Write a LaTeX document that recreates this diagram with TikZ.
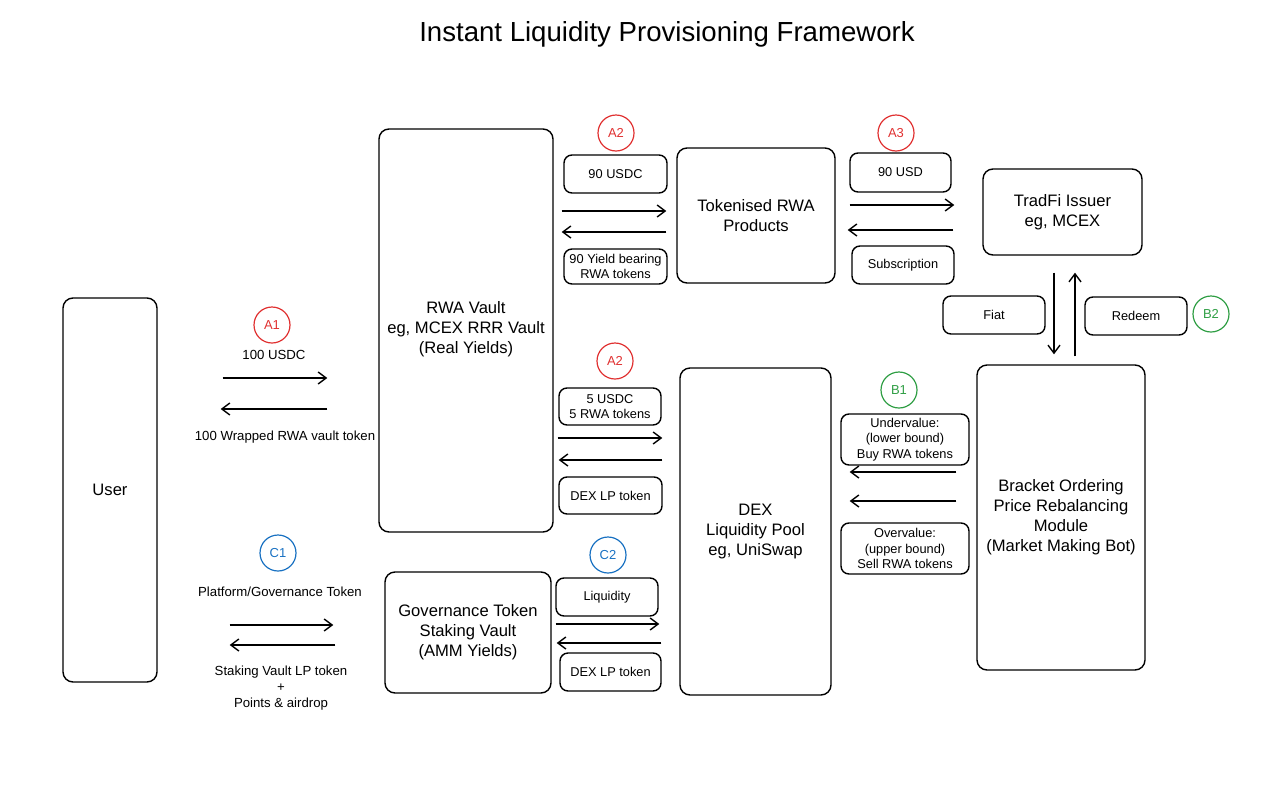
\documentclass[tikz,border=0pt]{standalone}
\usepackage{fontspec}
\setmainfont{Liberation Sans}
\usepackage{xcolor}
\usepackage{tikz}
\usetikzlibrary{arrows.meta,positioning,shapes}
\definecolor{xred}{HTML}{E03131}
\definecolor{xgreen}{HTML}{2F9E44}
\definecolor{xblue}{HTML}{1971C2}
\tikzstyle{block} = [rectangle, rounded corners=5pt, draw=black, line width=0.7pt, align=center, font=\fontsize{8.3}{10}\selectfont, inner sep=1pt]
\tikzstyle{tag} = [rectangle, rounded corners=4pt, draw=black, line width=0.7pt, align=center, font=\fontsize{6.4}{7.7}\selectfont, inner sep=0.5pt]
\tikzstyle{note} = [align=center, font=\fontsize{6.6}{7.8}\selectfont, inner sep=0pt]
\tikzstyle{badge} = [circle, draw, line width=0.6pt, minimum size=18pt, inner sep=0pt, font=\fontsize{6.5}{7}\selectfont]
\tikzstyle{arrow} = [line width=0.7pt,-{Straight Barb[length=4pt,width=6pt]}]

\begin{document}
\begin{tikzpicture}[x=0.5pt,y=-0.5pt]
		\useasboundingbox (0,0) rectangle (1280,793);
		\node[font=\fontsize{13.8}{15}\selectfont] (title) at (667,34) {Instant Liquidity Provisioning Framework};
		
		% main blocks
		\node[block, minimum width=47pt, minimum height=192pt] (user) at (110,490) {User};
		\node[block, minimum width=87pt, minimum height=201.5pt] (rwa) at (466,330.5) {};
		\node[font=\fontsize{8.3}{10}\selectfont, align=center] (rwatext) at (466,329) {RWA Vault\\eg, MCEX RRR Vault\\(Real Yields)};
		\node[block, minimum width=79pt, minimum height=67.5pt] (tok) at (756,215.5) {Tokenised RWA\\Products};
		\node[block, minimum width=79.5pt, minimum height=43pt] (tradfi) at (1062.5,212) {TradFi Issuer\\eg, MCEX};
		\node[block, minimum width=75.5pt, minimum height=163.5pt] (dex) at (755.5,531.5) {DEX\\Liquidity Pool\\eg, UniSwap};
		\node[block, minimum width=84pt, minimum height=152.5pt] (bracket) at (1061,517.5) {Bracket Ordering\\Price Rebalancing\\Module\\(Market Making Bot)};
		\node[block, minimum width=83pt, minimum height=60.5pt] (gov) at (468,632.5) {Governance Token\\Staking Vault\\(AMM Yields)};
		
		% labels on flows
		\node[tag, minimum width=51.5pt, minimum height=19pt] (usdcA) at (615.5,174) {90 USDC};
		\node[tag, minimum width=51.5pt, minimum height=17.5pt] (yieldA) at (615.5,266.5) {90 Yield bearing\\RWA tokens};
		\node[tag, minimum width=50.5pt, minimum height=19.5pt] (usdA) at (900.5,172.5) {90 USD};
		\node[tag, minimum width=51pt, minimum height=19pt] (subs) at (903,265) {Subscription};
		\node[tag, minimum width=51pt, minimum height=19pt] (fiat) at (994,315) {Fiat};
		\node[tag, minimum width=51pt, minimum height=19pt] (redeem) at (1136,316) {Redeem};
		\node[tag, minimum width=51pt, minimum height=18.5pt] (usdcB) at (610,406.5) {5 USDC\\5 RWA tokens};
		\node[tag, minimum width=51.5pt, minimum height=18.5pt] (lpA) at (610.5,495.5) {DEX LP token};
		\node[tag, minimum width=64pt, minimum height=25.5pt] (under) at (905,439.5) {Undervalue:\\(lower bound)\\Buy RWA tokens};
		\node[tag, minimum width=64pt, minimum height=25.5pt] (over) at (905,548.5) {Overvalue:\\(upper bound)\\Sell RWA tokens};
		\node[tag, minimum width=51pt, minimum height=19pt] (liq) at (607,597) {Liquidity};
		\node[tag, minimum width=50.5pt, minimum height=19pt] (lpB) at (610.5,672) {DEX LP token};
		
		\node[note] (usdcin) at (274,355) {100 USDC};
		\node[note] (wrapped) at (285,437) {100 Wrapped RWA vault token};
		\node[note] (platform) at (280,592) {Platform/Governance Token};
		\node[note] (stakelp) at (281,688) {Staking Vault LP token\\+\\Points \& airdrop};
		
		% step badges
		\node[badge, xred] (a1) at (272,325) {A1};
		\node[badge, xred] (a2) at (616,133) {A2};
		\node[badge, xred] (a3) at (896,133) {A3};
		\node[badge, xred] (a2b) at (615,361) {A2};
		\node[badge, xgreen] (b1) at (899,390) {B1};
		\node[badge, xgreen] (b2) at (1211,314) {B2};
		\node[badge, xblue] (c1) at (278,553) {C1};
		\node[badge, xblue] (c2) at (608,555) {C2};
		
		% flows
		\draw[arrow, shorten <=32.5pt, shorten >=25.5pt] (user.east |- 0,378) -- (rwa.west |- 0,378);
		\draw[arrow, shorten <=25.5pt, shorten >=31.5pt] (rwa.west |- 0,409) -- (user.east |- 0,409);
		\draw[arrow, shorten <=4pt, shorten >=5pt] (rwa.east |- 0,211) -- (tok.west |- 0,211);
		\draw[arrow, shorten <=5pt, shorten >=4pt] (tok.west |- 0,232) -- (rwa.east |- 0,232);
		\draw[arrow, shorten <=7pt, shorten >=14pt] (tok.east |- 0,205) -- (tradfi.west |- 0,205);
		\draw[arrow, shorten <=14.5pt, shorten >=6pt] (tradfi.west |- 0,230) -- (tok.east |- 0,230);
		\draw[arrow, shorten <=8.5pt, shorten >=5pt] (tradfi.south -| 1054,0) -- (bracket.north -| 1054,0);
		\draw[arrow, shorten <=4pt, shorten >=8.5pt] (bracket.north -| 1075,0) -- (tradfi.south -| 1075,0);
		\draw[arrow, shorten <=2pt, shorten >=8.5pt] (rwa.east |- 0,438) -- (dex.west |- 0,438);
		\draw[arrow, shorten <=8.5pt, shorten >=2.5pt] (dex.west |- 0,460) -- (rwa.east |- 0,460);
		\draw[arrow, shorten <=10pt, shorten >=9pt] (bracket.west |- 0,472) -- (dex.east |- 0,472);
		\draw[arrow, shorten <=10pt, shorten >=9pt] (bracket.west |- 0,501) -- (dex.east |- 0,501);
		\draw[arrow, shorten <=36pt, shorten >=25.5pt] (user.east |- 0,625) -- (gov.west |- 0,625);
		\draw[arrow, shorten <=24.5pt, shorten >=36pt] (gov.west |- 0,645) -- (user.east |- 0,645);
		\draw[arrow, shorten <=2pt, shorten >=10pt] (gov.east |- 0,624) -- (dex.west |- 0,624);
		\draw[arrow, shorten <=9pt, shorten >=2.5pt] (dex.west |- 0,643) -- (gov.east |- 0,643);
\end{tikzpicture}
\end{document}
